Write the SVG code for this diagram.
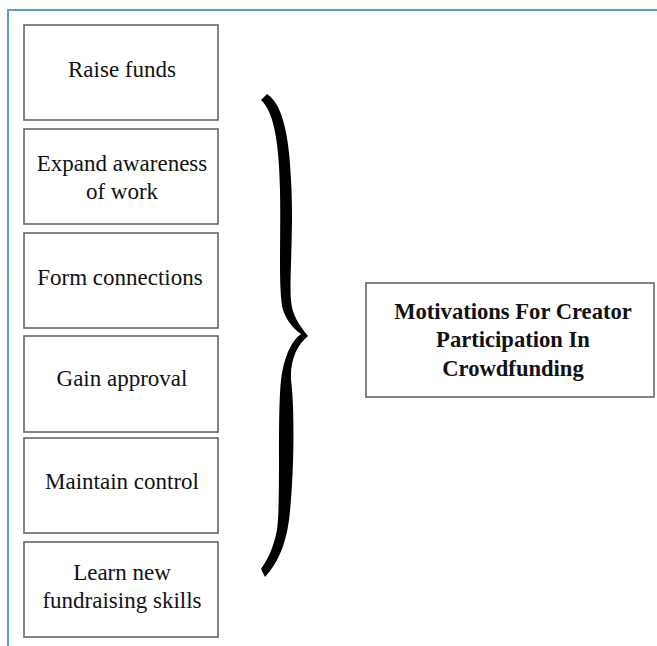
<svg xmlns="http://www.w3.org/2000/svg" width="657" height="646" viewBox="0 0 657 646">
<style>
.box{fill:#fff;stroke:#666;stroke-width:1.6}
.t{font-family:"Liberation Serif","Times New Roman",serif;font-size:23px;fill:#111;text-anchor:middle}
.b{font-weight:bold;font-size:22.6px}
</style>
<rect x="0" y="0" width="657" height="646" fill="#fff"/>
<path d="M8,646 V10 H657" fill="none" stroke="#5b9bd5" stroke-width="2"/>
<g id="n1"><rect class="box" x="24" y="25" width="194" height="95"/><text class="t" x="122" y="77">Raise funds</text></g>
<g id="n2"><rect class="box" x="24" y="129" width="194" height="95"/><text class="t" x="122" y="171">Expand awareness</text><text class="t" x="122" y="199">of work</text></g>
<g id="n3"><rect class="box" x="24" y="233" width="194" height="95"/><text class="t" x="120" y="285">Form connections</text></g>
<g id="n4"><rect class="box" x="24" y="336" width="194" height="96"/><text class="t" x="122" y="386">Gain approval</text></g>
<g id="n5"><rect class="box" x="24" y="438" width="194" height="95"/><text class="t" x="122" y="489">Maintain control</text></g>
<g id="n6"><rect class="box" x="24" y="542" width="194" height="95"/><text class="t" x="122" y="580">Learn new</text><text class="t" x="122" y="608">fundraising skills</text></g>
<g id="connectors">
<path d="M261,100 C272,110 279,135 280,190 C281,240 278,290 283,310 C287,322 295,330 301,334 C293,340 285,352 281,380 C277,420 281,500 277,530 C273,550 267,560 261,569 L265,577 C277,563 285,548 289,520 C294,480 295,410 291,380 C290,360 297,345 308,336 C299,325 292,315 291,300 C289,280 294,230 291,180 C289,130 281,103 267,94 Z" fill="#000"/>
</g>
<g id="main"><rect class="box" x="366" y="283" width="288" height="114"/>
<text class="t b" x="513" y="319">Motivations For Creator</text>
<text class="t b" x="513" y="347">Participation In</text>
<text class="t b" x="513" y="376">Crowdfunding</text></g>
</svg>
